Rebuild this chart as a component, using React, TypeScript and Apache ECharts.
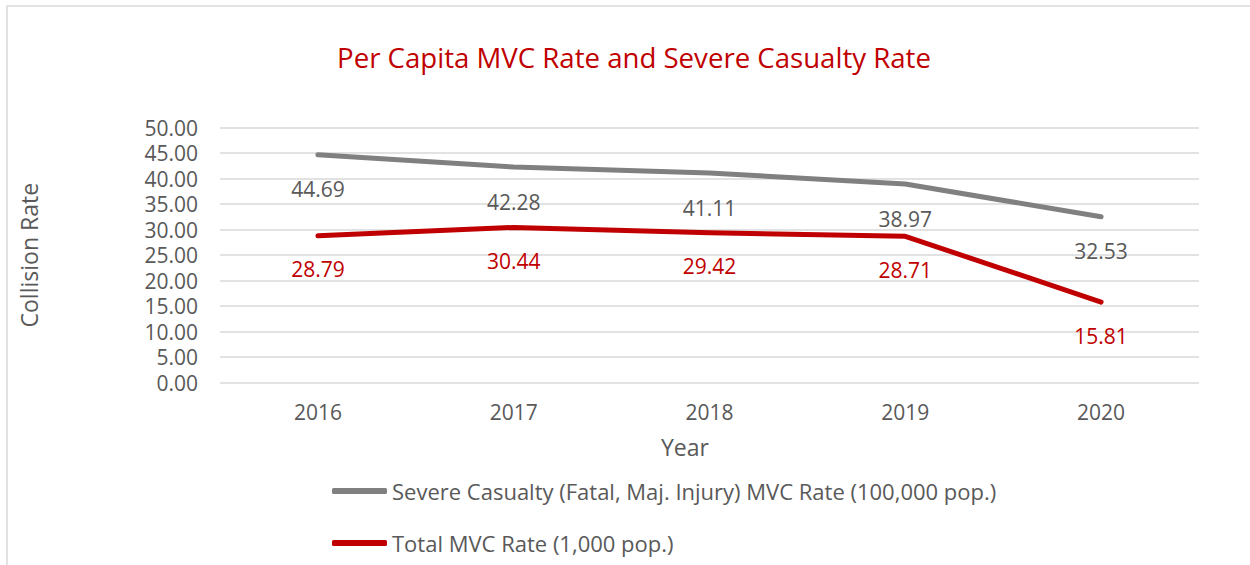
import React, { useEffect, useRef } from "react";
import * as echarts from "echarts";

const years = ["2016", "2017", "2018", "2019", "2020"];
const severeRate = [44.69, 42.28, 41.11, 38.97, 32.53];
const totalRate = [28.79, 30.44, 29.42, 28.71, 15.81];
const severeName = "Severe Casualty (Fatal, Maj. Injury) MVC Rate (100,000 pop.)";
const totalName = "Total MVC Rate (1,000 pop.)";
const titleText = "Per Capita MVC Rate and Severe Casualty Rate";

const FONT = "'Open Sans', 'Noto Sans', sans-serif";
const TXT = "#595959";

export default function App() {
  const ref = useRef<HTMLDivElement>(null);
  useEffect(() => {
    if (!ref.current) return;
    const chart = echarts.init(ref.current, null, { renderer: "svg" });
    chart.setOption({
      animation: false,
      backgroundColor: "#ffffff",
      textStyle: { fontFamily: FONT },
      title: {
        text: titleText,
        left: 629,
        top: 38,
        textAlign: "center",
        textStyle: { color: "#C00000", fontSize: 27.6, fontWeight: "normal", fontFamily: FONT },
      },
      graphic: [
        {
          type: "rect",
          shape: { x: 7, y: 6, width: 1400, height: 700 },
          style: { fill: "none", stroke: "#D9D9D9", lineWidth: 1.5 },
          silent: true,
          z: -1,
        },
        {
          type: "text",
          x: 685,
          y: 447,
          style: {
            text: "Year",
            fill: TXT,
            font: `23px ${FONT}`,
            textAlign: "center",
            textVerticalAlign: "middle",
          },
        },
      ],
      legend: {
        orient: "vertical",
        left: 332,
        top: 480,
        padding: 0,
        itemGap: 30,
        itemWidth: 55,
        itemHeight: 6,
        icon: "roundRect",
        textStyle: { color: TXT, fontSize: 22, fontFamily: FONT },
        data: [severeName, totalName],
      },
      grid: { left: 220, right: 51, top: 127.7, bottom: 182.3, containLabel: false },
      xAxis: {
        type: "category",
        data: years,
        boundaryGap: true,
        axisLine: { show: false },
        axisTick: { show: false },
        axisLabel: { color: TXT, fontSize: 21, margin: 19, fontFamily: FONT },
      },
      yAxis: {
        type: "value",
        min: 0,
        max: 50,
        interval: 5,
        name: "Collision Rate",
        nameLocation: "middle",
        nameGap: 180,
        nameTextStyle: { color: TXT, fontSize: 23, fontFamily: FONT },
        axisLine: { show: false },
        axisTick: { show: false },
        axisLabel: {
          color: TXT,
          fontSize: 21,
          margin: 22,
          fontFamily: FONT,
          formatter: (v: number) => v.toFixed(2),
        },
        splitLine: { lineStyle: { color: "#D9D9D9", width: 1.5 } },
      },
      series: [
        {
          name: severeName,
          type: "line",
          data: severeRate,
          symbol: "circle",
          symbolSize: 0.1,
          showSymbol: true,
          itemStyle: { color: "#808080" },
          lineStyle: { color: "#808080", width: 5, cap: "round", join: "round" },
          label: {
            show: true,
            position: "bottom",
            distance: 24,
            color: TXT,
            fontSize: 21,
            fontFamily: FONT,
            formatter: (p: any) => p.value.toFixed(2),
          },
        },
        {
          name: totalName,
          type: "line",
          data: totalRate,
          symbol: "circle",
          symbolSize: 0.1,
          showSymbol: true,
          itemStyle: { color: "#C00000" },
          lineStyle: { color: "#C00000", width: 5, cap: "round", join: "round" },
          label: {
            show: true,
            position: "bottom",
            distance: 23,
            color: "#C00000",
            fontSize: 21,
            fontFamily: FONT,
            formatter: (p: any) => p.value.toFixed(2),
          },
        },
      ],
    });
    return () => chart.dispose();
  }, []);
  return (
    <div
      ref={ref}
      style={{ position: "fixed", left: 0, top: 0, width: 1250, height: 565 }}
    />
  );
}
